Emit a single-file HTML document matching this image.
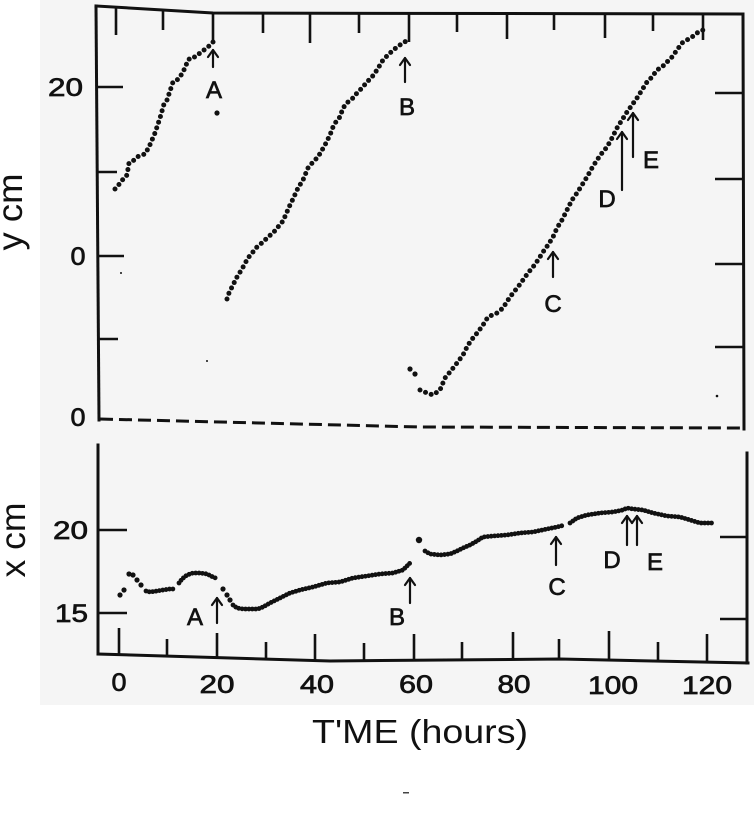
<!DOCTYPE html>
<html>
<head>
<meta charset="utf-8">
<style>
html,body{margin:0;padding:0;background:#fff;}
svg{display:block;}
text{font-family:"Liberation Sans",Arial,sans-serif;fill:#111;}
.lb{stroke:#111;stroke-width:0.7;}
</style>
</head>
<body>
<svg width="754" height="816" viewBox="0 0 754 816" xmlns="http://www.w3.org/2000/svg">
<rect x="0" y="0" width="754" height="816" fill="#fff"/>
<rect x="40" y="0" width="714" height="705" fill="#f5f5f5"/>

<!-- ===== TOP PANEL FRAME ===== -->
<g stroke="#111" fill="none" stroke-width="3" stroke-linecap="square">
  <polyline points="96,6 213,13 743,14"/>
  <polyline points="96,6 99,420"/>
  <polyline points="743,14 744,429"/>
</g>
<polyline points="100,419 420,427 744,428" stroke="#111" stroke-width="3" fill="none" stroke-dasharray="13 6"/>
<!-- top ticks -->
<g stroke="#111" stroke-width="2.6">
  <line x1="116" y1="8" x2="116" y2="35"/>
  <line x1="163" y1="11" x2="163" y2="30"/>
  <line x1="213" y1="13" x2="213" y2="42"/>
  <line x1="263" y1="13" x2="263" y2="33"/>
  <line x1="310" y1="13" x2="310" y2="43"/>
  <line x1="359" y1="13" x2="359" y2="33"/>
  <line x1="409" y1="13" x2="409" y2="42"/>
  <line x1="457" y1="13" x2="457" y2="32"/>
  <line x1="507" y1="13" x2="507" y2="39"/>
  <line x1="554" y1="13" x2="554" y2="30"/>
  <line x1="605" y1="13" x2="605" y2="38"/>
  <line x1="653" y1="14" x2="653" y2="31"/>
  <line x1="703" y1="14" x2="703" y2="40"/>
  <line x1="97" y1="87" x2="123" y2="87"/>
  <line x1="97" y1="172" x2="117" y2="172"/>
  <line x1="98" y1="256" x2="124" y2="256"/>
  <line x1="98" y1="339" x2="118" y2="339"/>
  <line x1="715" y1="93" x2="743" y2="93"/>
  <line x1="715" y1="179" x2="743" y2="179"/>
  <line x1="715" y1="264" x2="743" y2="264"/>
  <line x1="715" y1="347" x2="743" y2="347"/>
</g>
<!-- top labels -->
<text class="lb" x="83" y="96" font-size="25" text-anchor="end" textLength="35" lengthAdjust="spacingAndGlyphs">20</text>
<text class="lb" x="78" y="265" font-size="25" text-anchor="middle" textLength="15" lengthAdjust="spacingAndGlyphs">0</text>
<text class="lb" x="78" y="426" font-size="25" text-anchor="middle" textLength="15" lengthAdjust="spacingAndGlyphs">0</text>
<text transform="translate(22,212) rotate(-90)" font-size="35" text-anchor="middle" textLength="77" lengthAdjust="spacingAndGlyphs">y cm</text>

<!-- top data -->
<g stroke="#111" stroke-width="5" stroke-linecap="round" stroke-linejoin="round" fill="none" stroke-dasharray="0 6">
  <polyline points="115,189 117,187 124,178 127,175 129,163 133,161 137,157 142,155 145,154 149,147 155,133 160,118 164,104 167,100 170,91 173,82 177,80 180,77 185,68 188,60 192,57 195,57 200,53 204,50 208,47 212,43 215,40"/>
  <polyline points="227,299 229,293 237,277 242,269 248,258 257,247 263,242 268,237 273,233 278,227 283,221 290,205 293,199 298,188 303,180 308,168 313,162 318,157 325,145 330,135 333,127 337,120 340,117 343,108 348,102 353,98 357,93 362,88 367,82 372,77 377,70 383,60 390,53 397,47 403,43 408,40"/>
  <polyline points="420,390 427,393 433,395 440,390 445,378 450,372 457,363 463,355 468,345 473,338 478,332 483,325 488,317 497,313 503,308 508,300 513,293 518,287 523,280 528,273 533,267 538,260 543,252 548,245 553,237 557,228 562,220 567,210 572,200 577,193 582,185 587,177 592,168 597,160 602,153 607,147 612,138 617,128 622,120 627,112 632,105 637,98 642,90 647,82 652,77 657,70 662,67 667,62 672,57 677,50 682,43 687,40 692,37 697,33 703,30 708,28"/>
</g>
<g fill="#111">
  <circle cx="217" cy="113" r="2.6"/>
  <circle cx="410" cy="369" r="2.6"/>
  <circle cx="415" cy="374" r="2.6"/>
  <circle cx="717" cy="396" r="1.3"/>
  <circle cx="207" cy="361" r="1"/>
  <circle cx="121" cy="273" r="1"/>
</g>

<!-- top arrows -->
<g stroke="#111" stroke-width="2.2" fill="none" stroke-linecap="round" stroke-linejoin="round">
  <line x1="213" y1="50" x2="213" y2="67"/><polyline points="208,57 213,50 218,57"/>
  <line x1="405" y1="58" x2="405" y2="82"/><polyline points="400,65 405,58 410,65"/>
  <line x1="553" y1="252" x2="553" y2="277"/><polyline points="548,259 553,252 558,259"/>
  <line x1="622" y1="132" x2="622" y2="190"/><polyline points="617,139 622,132 627,139"/>
  <line x1="633" y1="113" x2="633" y2="157"/><polyline points="628,120 633,113 638,120"/>
</g>
<g font-size="24" text-anchor="middle" class="lb">
  <text x="214" y="98">A</text>
  <text x="407" y="115">B</text>
  <text x="553" y="312">C</text>
  <text x="607" y="207">D</text>
  <text x="651" y="168">E</text>
</g>

<!-- ===== BOTTOM PANEL FRAME ===== -->
<g stroke="#111" fill="none" stroke-width="3" stroke-linecap="square">
  <polyline points="98,445 98,654"/>
  <polyline points="98,654 330,661 560,659 748,663"/>
  <polyline points="747,453 747,663"/>
</g>
<g stroke="#111" stroke-width="2.6">
  <line x1="98" y1="530" x2="127" y2="530"/>
  <line x1="98" y1="613" x2="127" y2="613"/>
  <line x1="720" y1="537" x2="747" y2="537"/>
  <line x1="720" y1="619" x2="747" y2="619"/>
  <line x1="119" y1="628" x2="119" y2="654"/>
  <line x1="167" y1="639" x2="167" y2="655"/>
  <line x1="217" y1="633" x2="217" y2="657"/>
  <line x1="266" y1="642" x2="266" y2="659"/>
  <line x1="315" y1="634" x2="315" y2="660"/>
  <line x1="364" y1="643" x2="364" y2="660"/>
  <line x1="414" y1="634" x2="414" y2="661"/>
  <line x1="462" y1="642" x2="462" y2="660"/>
  <line x1="513" y1="632" x2="513" y2="660"/>
  <line x1="559" y1="639" x2="559" y2="659"/>
  <line x1="609" y1="631" x2="609" y2="660"/>
  <line x1="658" y1="642" x2="658" y2="661"/>
  <line x1="707" y1="634" x2="707" y2="662"/>
</g>
<text class="lb" x="88" y="539" font-size="25" text-anchor="end" textLength="35" lengthAdjust="spacingAndGlyphs">20</text>
<text class="lb" x="88" y="622" font-size="25" text-anchor="end" textLength="33" lengthAdjust="spacingAndGlyphs">15</text>
<text transform="translate(25,540) rotate(-90)" font-size="35" text-anchor="middle" textLength="75" lengthAdjust="spacingAndGlyphs">x cm</text>
<g font-size="25" text-anchor="middle" class="lb">
  <text x="119" y="691" textLength="15" lengthAdjust="spacingAndGlyphs">0</text>
  <text x="217" y="693" textLength="35" lengthAdjust="spacingAndGlyphs">20</text>
  <text x="317" y="693" textLength="34" lengthAdjust="spacingAndGlyphs">40</text>
  <text x="416" y="693" textLength="34" lengthAdjust="spacingAndGlyphs">60</text>
  <text x="514" y="693" textLength="33" lengthAdjust="spacingAndGlyphs">80</text>
  <text x="613" y="694" textLength="50" lengthAdjust="spacingAndGlyphs">100</text>
  <text x="707" y="694" textLength="50" lengthAdjust="spacingAndGlyphs">120</text>
</g>

<!-- bottom data -->
<g fill="#111">
  <circle cx="120" cy="595" r="2.6"/>
  <circle cx="124" cy="590" r="2.6"/>
  <circle cx="129" cy="574" r="2.6"/>
  <circle cx="133" cy="575" r="2.6"/>
  <circle cx="137" cy="580" r="2.6"/>
  <circle cx="141" cy="585" r="2.6"/>
  <circle cx="223" cy="589" r="2.6"/>
  <circle cx="227" cy="595" r="2.6"/>
  <circle cx="230" cy="600" r="2.6"/>
  <circle cx="419" cy="540" r="3.2"/>
</g>
<g stroke="#111" stroke-width="4.8" stroke-linecap="round" stroke-linejoin="round" fill="none" stroke-dasharray="0 3.4">
  <polyline points="146,591 150,592 157,591 163,590 170,589 176,589"/>
  <polyline points="179,583 182,579 187,575 193,573 200,573 207,574 213,577 218,579"/>
  <polyline points="233,605 237,608 243,609 250,609 258,609 263,607 270,603 280,598 290,593 300,590 313,587 327,583 340,582 353,578 367,576 380,574 393,573 403,570 408,565 410,563"/>
  <polyline points="425,551 430,554 440,555 450,554 457,551 463,548 470,545 477,541 483,537 493,536 507,535 520,533 533,532 547,529 557,527 565,525"/>
  <polyline points="570,523 577,518 587,515 600,513 613,512 623,510 627,508 633,509 643,510 653,513 667,516 680,517 690,520 700,523 712,523"/>
</g>

<!-- bottom arrows -->
<g stroke="#111" stroke-width="2.2" fill="none" stroke-linecap="round" stroke-linejoin="round">
  <line x1="217" y1="598" x2="217" y2="623"/><polyline points="212,605 217,598 222,605"/>
  <line x1="410" y1="578" x2="410" y2="603"/><polyline points="405,585 410,578 415,585"/>
  <line x1="556" y1="537" x2="556" y2="565"/><polyline points="551,544 556,537 561,544"/>
  <line x1="627" y1="516" x2="627" y2="545"/><polyline points="622,523 627,516 632,523"/>
  <line x1="637" y1="516" x2="637" y2="545"/><polyline points="632,523 637,516 642,523"/>
</g>
<g font-size="24" text-anchor="middle" class="lb">
  <text x="195" y="625">A</text>
  <text x="397" y="625">B</text>
  <text x="557" y="595">C</text>
  <text x="612" y="568">D</text>
  <text x="655" y="570">E</text>
</g>

<!-- x axis title -->
<text x="312" y="743" font-size="33" textLength="216" lengthAdjust="spacingAndGlyphs">T'ME (hours)</text>
<rect x="403" y="792" width="6" height="1.5" fill="#444"/>
</svg>
</body>
</html>
